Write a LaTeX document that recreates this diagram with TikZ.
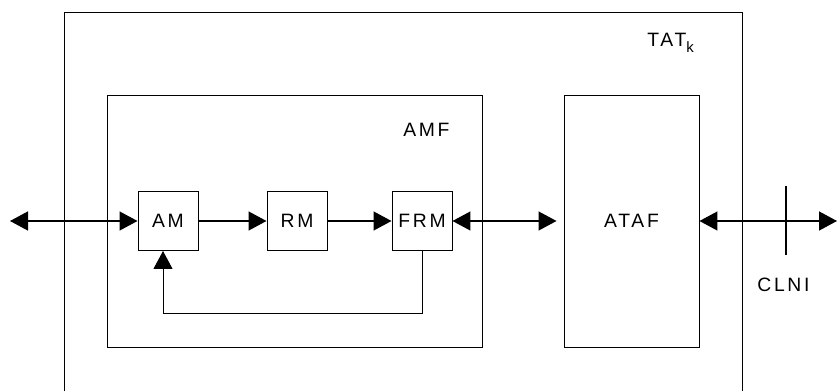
\documentclass[tikz,border=0pt]{standalone}
\usepackage{fontspec}
\setmainfont{Liberation Sans}[LetterSpace=14]
\usepackage{tikz}
\usetikzlibrary{arrows.meta}

\tikzset{
	block/.style={shape=rectangle, draw, line width=0.55pt, inner sep=0pt},
	flow/.style={line width=0.8pt, -{Triangle[length=0.36cm, width=0.38cm]}},
	biflow/.style={line width=0.8pt, {Triangle[length=0.36cm, width=0.38cm]}-{Triangle[length=0.36cm, width=0.38cm]}},
}

\begin{document}
\begin{tikzpicture}[font=\fontsize{11}{13}\selectfont]
	\useasboundingbox (0,0) rectangle (16.74,7.82);
	% Boxes and labels:
	\draw[line width=0.55pt] (1.28,0) |- (14.84,7.58) -- (14.84,0);
	\node[anchor=base west, inner sep=0pt] (N0) at (12.94,6.88){TAT\raisebox{-0.12cm}{\fontsize{8.5}{10}\selectfont k}};
	\node[block, minimum width=7.5cm, minimum height=5.04cm](N1) at (5.89,3.40){};
	\node[anchor=base west, inner sep=0pt] (N6) at (8.06,5.08){AMF};
	\node[block, minimum width=2.7cm, minimum height=5.04cm](N2) at (12.63,3.40){ATAF};
	\node[block, minimum width=1.2cm, minimum height=1.18cm](N3) at (3.36,3.40){AM};
	\node[block, minimum width=1.2cm, minimum height=1.18cm](N4) at (5.94,3.40){RM};
	\node[block, minimum width=1.2cm, minimum height=1.18cm](N5) at (8.44,3.40){FRM};
	\node[anchor=base west, inner sep=0pt] (N7) at (15.14,1.98){CLNI};
	\coordinate (L) at (0.2,3.40);
	\coordinate (R) at (16.74,3.40);
	\coordinate (T1) at (15.72,4.10);
	\coordinate (T2) at (15.72,2.72);
	% Arrows:
	\draw[biflow] (L) -- (N3.west);
	\draw[flow] (N3.east) -- (N4.west);
	\draw[flow] (N4.east) -- (N5.west);
	\draw[biflow, shorten >=0.14cm] (N5.east) -- (N2.west);
	\draw[biflow] (N2.east) -- (R);
	\draw[line width=0.8pt] (T1) -- (T2);
	\draw[flow, line width=0.55pt] (N5.south) -- ++(0,-1.24) -| ([xshift=-0.1cm]N3.south);
\end{tikzpicture}
\end{document}
